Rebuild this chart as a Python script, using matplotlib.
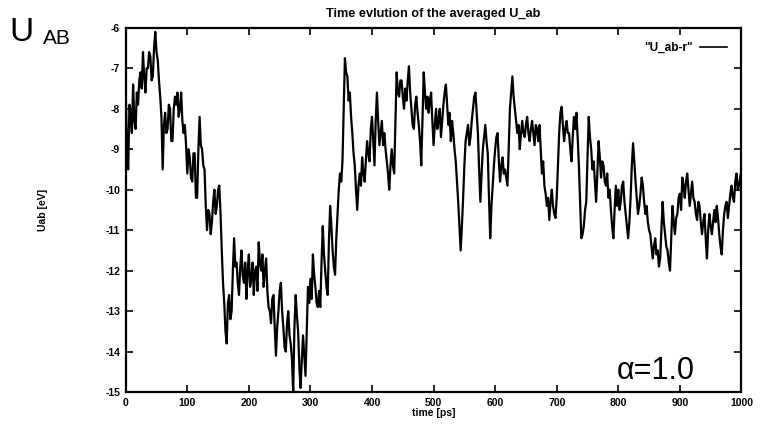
#!/usr/bin/env python3
"""Time evolution of the averaged U_ab (gnuplot-style scan)."""

import matplotlib

matplotlib.use("Agg")

import matplotlib.pyplot as plt
import numpy as np

STEP_PS = 2

# U_ab [eV], one list per 100 ps block, 2 ps apart
U_000 = [-7.6, -8.9, -9.5, -7.9, -8.2, -8.6, -7.4, -8.3, -8.5, -7.6,
         -7.9, -7.3, -7.1, -7.5, -6.6, -7.2, -7.6, -7.0, -7.0, -6.6,
         -6.7, -7.3, -7.2, -6.5, -6.1, -6.6, -6.8, -7.3, -7.7, -8.2,
         -9.5, -8.4, -8.1, -8.6, -8.5, -7.9, -8.0, -8.8, -8.8, -8.0,
         -7.7, -7.9, -7.6, -8.2, -8.0, -7.6, -8.3, -8.6, -8.4, -8.9]
U_100 = [-9.6, -9.0, -9.2, -9.7, -9.8, -9.1, -9.1, -10.2, -10.2, -9.0,
         -8.2, -8.9, -9.0, -9.4, -9.5, -10.4, -11.0, -10.5, -10.6, -11.1,
         -10.8, -10.3, -10.0, -10.6, -10.4, -10.0, -9.9, -10.6, -11.5, -12.3,
         -12.8, -13.5, -13.8, -12.8, -12.6, -13.2, -13.0, -12.0, -11.2, -11.9,
         -11.8, -12.3, -12.6, -11.9, -11.5, -12.1, -12.3, -11.8, -12.7, -12.0]
U_200 = [-11.6, -12.4, -12.2, -11.8, -12.6, -12.0, -11.9, -12.5, -11.3, -11.8,
         -12.0, -11.6, -12.4, -12.0, -11.7, -12.5, -12.9, -13.0, -13.3, -12.7,
         -12.6, -13.4, -14.1, -13.4, -13.0, -12.5, -12.3, -13.0, -13.4, -13.9,
         -14.0, -13.3, -13.0, -13.6, -13.8, -14.2, -15.0, -13.4, -12.6, -13.1,
         -13.5, -14.4, -14.9, -14.2, -13.6, -14.1, -14.6, -13.5, -12.4, -12.8]
U_300 = [-12.2, -12.7, -11.6, -12.1, -12.4, -12.8, -12.9, -12.5, -12.9, -11.8,
         -10.9, -11.6, -12.0, -12.4, -12.6, -11.3, -10.4, -10.9, -11.5, -11.9,
         -12.1, -11.2, -10.6, -10.0, -9.6, -9.8, -9.3, -8.0, -6.75, -7.1,
         -7.2, -7.8, -7.6, -8.2, -8.6, -9.1, -9.4, -10.0, -10.5, -9.9,
         -9.6, -9.9, -9.2, -9.6, -9.8, -9.3, -8.8, -9.1, -9.3, -8.5]
U_400 = [-8.2, -8.8, -9.4, -8.3, -7.6, -8.3, -8.9, -8.6, -8.3, -8.9,
         -8.6, -9.0, -9.3, -9.6, -10.0, -9.4, -9.0, -9.4, -9.6, -8.4,
         -7.1, -7.6, -7.7, -7.3, -7.3, -7.7, -8.0, -7.5, -7.8, -7.3,
         -6.95, -7.6, -8.0, -8.4, -8.5, -7.9, -7.7, -8.1, -8.4, -8.8,
         -9.4, -8.2, -7.1, -7.6, -8.0, -7.7, -8.1, -7.8, -7.6, -8.3]
U_500 = [-8.9, -8.4, -8.0, -8.5, -8.3, -8.0, -8.7, -8.3, -7.9, -7.6,
         -7.4, -7.9, -8.4, -8.1, -8.8, -8.3, -8.6, -9.0, -9.3, -9.8,
         -10.3, -10.9, -11.5, -10.9, -10.2, -9.4, -8.8, -8.6, -8.4, -8.9,
         -8.7, -8.3, -8.0, -7.7, -7.6, -8.1, -8.6, -9.5, -10.3, -9.6,
         -9.0, -8.7, -8.4, -8.8, -9.1, -10.2, -11.2, -10.4, -9.9, -9.4]
U_600 = [-9.0, -8.7, -8.6, -9.3, -9.8, -9.4, -9.2, -9.6, -9.5, -9.7,
         -9.9, -9.0, -8.0, -7.6, -7.2, -7.7, -8.0, -8.3, -8.6, -8.4,
         -9.0, -8.6, -8.3, -8.6, -8.7, -8.4, -8.2, -8.6, -8.8, -8.5,
         -8.3, -8.6, -8.9, -8.4, -8.5, -8.8, -8.4, -9.0, -9.6, -9.3,
         -9.9, -10.1, -10.4, -10.2, -10.75, -10.3, -10.0, -10.4, -10.6, -10.7]
U_700 = [-10.2, -9.4, -8.6, -8.1, -7.95, -8.4, -8.8, -8.5, -8.3, -8.6,
         -8.6, -9.0, -9.3, -8.7, -8.2, -8.5, -8.1, -8.7, -9.4, -10.3,
         -11.2, -11.1, -10.9, -10.5, -10.3, -9.2, -8.2, -8.7, -9.0, -9.5,
         -9.3, -9.8, -10.3, -9.6, -8.8, -9.2, -9.7, -9.3, -9.4, -9.8,
         -9.9, -9.6, -10.2, -10.0, -10.5, -10.9, -11.2, -10.5, -9.9, -10.4]
U_800 = [-10.0, -10.5, -10.3, -9.9, -9.8, -10.3, -10.6, -10.9, -11.2, -10.8,
         -10.2, -9.4, -8.85, -9.3, -9.8, -10.2, -10.6, -10.4, -10.1, -9.7,
         -9.9, -10.3, -10.6, -10.4, -10.8, -11.0, -11.1, -11.4, -11.7, -11.4,
         -11.2, -11.6, -11.5, -11.9, -11.7, -11.0, -10.3, -10.8, -11.1, -11.4,
         -11.5, -11.8, -12.0, -11.2, -10.4, -10.8, -11.1, -10.7, -10.6, -10.2]
U_900 = [-10.1, -10.5, -9.7, -9.9, -10.2, -9.8, -9.6, -10.0, -10.4, -10.1,
         -9.8, -10.2, -10.3, -10.6, -10.75, -10.3, -10.4, -10.8, -11.1, -10.8,
         -10.6, -11.2, -11.7, -11.0, -10.6, -10.9, -11.1, -10.8, -10.5, -10.8,
         -10.4, -10.7, -11.1, -11.4, -11.6, -11.0, -10.6, -10.4, -10.3, -10.7,
         -10.4, -10.1, -9.9, -10.2, -10.3, -9.8, -9.6, -10.0, -9.9, -9.7,
         -9.5]
BLOCKS = [U_000, U_100, U_200, U_300, U_400, U_500, U_600, U_700, U_800, U_900]

X_TICKS = list(range(0, 1001, 100))
Y_TICKS = list(range(-15, -5))

FONT = ["Liberation Sans", "DejaVu Sans"]


def main() -> None:
    time_ps = np.concatenate([100 * i + STEP_PS * np.arange(len(b)) for i, b in enumerate(BLOCKS)])
    u_ab = np.concatenate([np.array(b) for b in BLOCKS])

    plt.rcParams["font.family"] = FONT
    plt.rcParams["axes.unicode_minus"] = False
    fig = plt.figure(figsize=(7.62, 4.28), dpi=100)
    ax = fig.add_axes([0.165, 0.084, 0.808, 0.851])

    ax.plot(time_ps, u_ab, color="black", linewidth=1.6, label='"U_ab-r"')

    ax.set_xlim(0, 1000)
    ax.set_ylim(-15, -6)
    ax.set_xticks(X_TICKS)
    ax.set_yticks(Y_TICKS)
    ax.tick_params(direction="in", top=True, right=True, length=5, width=1.2,
                   labelsize=7.5, pad=4)
    for label in ax.get_xticklabels() + ax.get_yticklabels():
        label.set_fontweight("bold")
    for spine in ax.spines.values():
        spine.set_linewidth(1.6)

    ax.set_xlabel("time [ps]", fontsize=7.5, fontweight="bold", labelpad=0)
    ax.set_ylabel("Uab [eV]", fontsize=7.5, fontweight="bold", labelpad=41)
    ax.set_title("Time evlution of the averaged U_ab", fontsize=9.2, fontweight="bold", pad=8)

    leg = ax.legend(loc="upper right", frameon=False, markerfirst=False,
                    prop={"size": 8.5, "weight": "bold"},
                    handlelength=2.3, handletextpad=0.6, borderaxespad=0.8)
    for line in leg.get_lines():
        line.set_linewidth(1.2)

    # handwritten annotations on the scan
    fig.text(0.012, 0.905, "U", fontsize=24, fontweight="light", color="black")
    fig.text(0.056, 0.898, "AB", fontsize=15, fontweight="light", color="black")
    ax.text(0.797, 0.035, "\u03b1=1.0", transform=ax.transAxes, fontsize=22,
            fontweight="light", color="black")

    fig.savefig("out.png", dpi=100)
    plt.close(fig)


if __name__ == "__main__":
    main()
